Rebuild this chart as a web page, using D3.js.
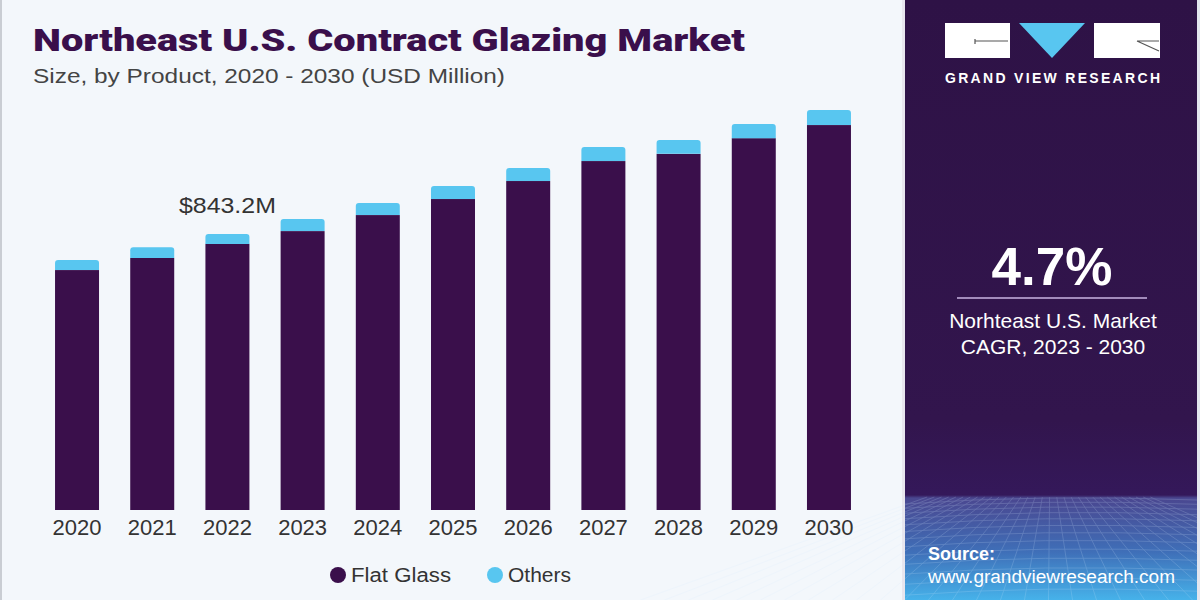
<!DOCTYPE html>
<html><head><meta charset="utf-8">
<script src="https://cdn.jsdelivr.net/npm/d3@7"></script>
<style>
body{margin:0;background:#f3f7fb;}
svg{display:block;}
</style></head>
<body>
<svg id="chart" width="1200" height="600"></svg>
<script>
const years = ["2020","2021","2022","2023","2024","2025","2026","2027","2028","2029","2030"];
const flatGlass = [733, 770, 813, 852, 901, 950, 1005, 1066, 1088, 1136, 1176];
const others = [31, 33, 30, 37, 37, 40, 40, 43, 42, 43, 46];
const seriesNames = ["Flat Glass", "Others"];
const seriesColors = ["#3a0f4b", "#58c6f0"];
const annotation = {year: "2022", text: "$843.2M"};

const svg = d3.select("#chart");
const W = 1200, H = 600;
const SANS = "Liberation Sans, Arial, sans-serif";

// background
svg.append("rect").attr("width", W).attr("height", H).attr("fill", "#f3f7fb");
svg.append("rect").attr("x",0).attr("y",0).attr("width",2).attr("height",H).attr("fill","#c9cdd3");

// right panel
const defs = svg.append("defs");
const g1 = defs.append("linearGradient").attr("id","pg").attr("x1",0).attr("y1",0).attr("x2",0).attr("y2",1);
g1.append("stop").attr("offset","0").attr("stop-color","#2e1246");
g1.append("stop").attr("offset","0.70").attr("stop-color","#32154d");
g1.append("stop").attr("offset","0.825").attr("stop-color","#34185a");
g1.append("stop").attr("offset","0.83").attr("stop-color","#4a4790");
g1.append("stop").attr("offset","0.92").attr("stop-color","#3f6fb8");
g1.append("stop").attr("offset","1").attr("stop-color","#46b2ea");
svg.append("rect").attr("x",905).attr("y",0).attr("width",295).attr("height",H).attr("fill","url(#pg)");
svg.append("rect").attr("x",902).attr("y",0).attr("width",3).attr("height",H).attr("fill","#e8e6ee");
svg.append("rect").attr("x",1197).attr("y",0).attr("width",3).attr("height",H).attr("fill","#e3e6ee");

// grid mesh in bottom of panel
const mesh = svg.append("g").attr("opacity",0.22).attr("stroke","#d5ebff").attr("fill","none").attr("stroke-width",0.8);
for (let i = 0; i < 16; i++) {
  const y = 500 + i*i*0.3 + i*4;
  mesh.append("path").attr("d", `M905,${y+4} Q1040,${y-6} 1197,${y}`);
}
for (let j = -8; j < 24; j++) {
  const x0 = 905 + j*16;
  mesh.append("path").attr("d", `M${1050 + (x0-1050)*0.45},497 L${x0 + (x0-1050)*0.5},600`);
}

// logo
svg.append("rect").attr("x",945).attr("y",23).attr("width",65).attr("height",35).attr("fill","#ffffff");
svg.append("path").attr("d","M975,44 L975,39 M975,41 L1008,41").attr("stroke","#555").attr("stroke-width",1.2).attr("fill","none");
svg.append("path").attr("d","M1019,23 L1085,23 L1052,58 Z").attr("fill","#58c6f0");
svg.append("rect").attr("x",1094).attr("y",23).attr("width",66).attr("height",35).attr("fill","#ffffff");
svg.append("path").attr("d","M1137,41 L1159,41 M1137,41 L1159,51").attr("stroke","#555").attr("stroke-width",1.2).attr("fill","none");
svg.append("text").attr("x",945).attr("y",83)
  .attr("font-family",SANS).attr("font-weight","bold")
  .attr("font-size",14).attr("fill","#ffffff").attr("textLength",215).attr("lengthAdjust","spacing").text("GRAND VIEW RESEARCH");

// CAGR
svg.append("text").attr("x",1052).attr("y",285).attr("text-anchor","middle")
  .attr("font-family",SANS).attr("font-weight","bold")
  .attr("font-size",53).attr("fill","#ffffff").text("4.7%");
svg.append("line").attr("x1",957).attr("x2",1147).attr("y1",298).attr("y2",298)
  .attr("stroke","#c9b3e0").attr("stroke-width",1.5);
svg.append("text").attr("x",1053).attr("y",328).attr("text-anchor","middle")
  .attr("font-family",SANS).attr("font-size",21).attr("fill","#ffffff").text("Norhteast U.S. Market");
svg.append("text").attr("x",1053).attr("y",354).attr("text-anchor","middle")
  .attr("font-family",SANS).attr("font-size",21).attr("fill","#ffffff").text("CAGR, 2023 - 2030");

// source
svg.append("text").attr("x",928).attr("y",560)
  .attr("font-family",SANS).attr("font-weight","bold").attr("font-size",18).attr("fill","#ffffff").text("Source:");
svg.append("text").attr("x",928).attr("y",583)
  .attr("font-family",SANS).attr("font-size",18).attr("fill","#ffffff")
  .attr("textLength",247).attr("lengthAdjust","spacingAndGlyphs").text("www.grandviewresearch.com");

// title
svg.append("text").attr("x",33).attr("y",51)
  .attr("font-family","Roboto, Liberation Sans, sans-serif").attr("font-weight",900)
  .attr("font-size",31).attr("fill","#3a0f4b").attr("textLength",712).attr("lengthAdjust","spacingAndGlyphs")
  .text("Northeast U.S. Contract Glazing Market");
svg.append("text").attr("x",33).attr("y",83)
  .attr("font-family",SANS)
  .attr("font-size",21).attr("fill","#444444").attr("textLength",472).attr("lengthAdjust","spacingAndGlyphs")
  .text("Size, by Product, 2020 - 2030 (USD Million)");

// chart
const baseline = 510;
const x = d3.scaleBand().domain(years).range([40, 866]).paddingInner(0.415).paddingOuter(0.2);
const y = d3.scaleLinear().domain([0, 843.2]).range([baseline, baseline - 276]);

const data = years.map((yr, i) => ({year: yr, flat: flatGlass[i], others: others[i]}));
const stack = d3.stack().keys(["flat","others"])(data);

const gBars = svg.append("g");
stack.forEach((layer, li) => {
  layer.forEach(d => {
    const x0 = x(d.data.year), w = x.bandwidth();
    const yTop = y(d[1]), yBot = y(d[0]);
    if (li === 1) {
      const r = 3;
      gBars.append("path")
        .attr("d", `M${x0},${yBot} L${x0},${yTop + r} Q${x0},${yTop} ${x0 + r},${yTop} L${x0 + w - r},${yTop} Q${x0 + w},${yTop} ${x0 + w},${yTop + r} L${x0 + w},${yBot} Z`)
        .attr("fill", seriesColors[1]);
    } else {
      gBars.append("rect").attr("x", x0).attr("y", yTop).attr("width", w).attr("height", yBot - yTop)
        .attr("fill", seriesColors[0]);
    }
  });
});

// x axis labels
const xAxis = d3.axisBottom(x).tickSize(0).tickPadding(9);
const ax = svg.append("g").attr("transform", `translate(0,${baseline})`).call(xAxis);
ax.select(".domain").remove();
ax.selectAll("text").attr("font-family",SANS)
  .attr("font-size",22).attr("fill","#333333");

// annotation
const ai = years.indexOf(annotation.year);
svg.append("text").attr("x", x(annotation.year) + x.bandwidth()/2).attr("y", y(flatGlass[ai] + others[ai]) - 21)
  .attr("text-anchor","middle").attr("font-family",SANS)
  .attr("font-size",22).attr("fill","#333333").attr("textLength",97).attr("lengthAdjust","spacingAndGlyphs").text(annotation.text);

// legend
const legend = svg.append("g");
const legX = [338, 495];
const legLen = [100, 63];
seriesNames.forEach((n, i) => {
  legend.append("circle").attr("cx", legX[i]).attr("cy", 575).attr("r", 8).attr("fill", seriesColors[i]);
  legend.append("text").attr("x", legX[i] + 13).attr("y", 582)
    .attr("font-family",SANS).attr("font-size",20).attr("fill","#333333")
    .attr("textLength",legLen[i]).attr("lengthAdjust","spacingAndGlyphs").text(n);
});
</script>
</body></html>
